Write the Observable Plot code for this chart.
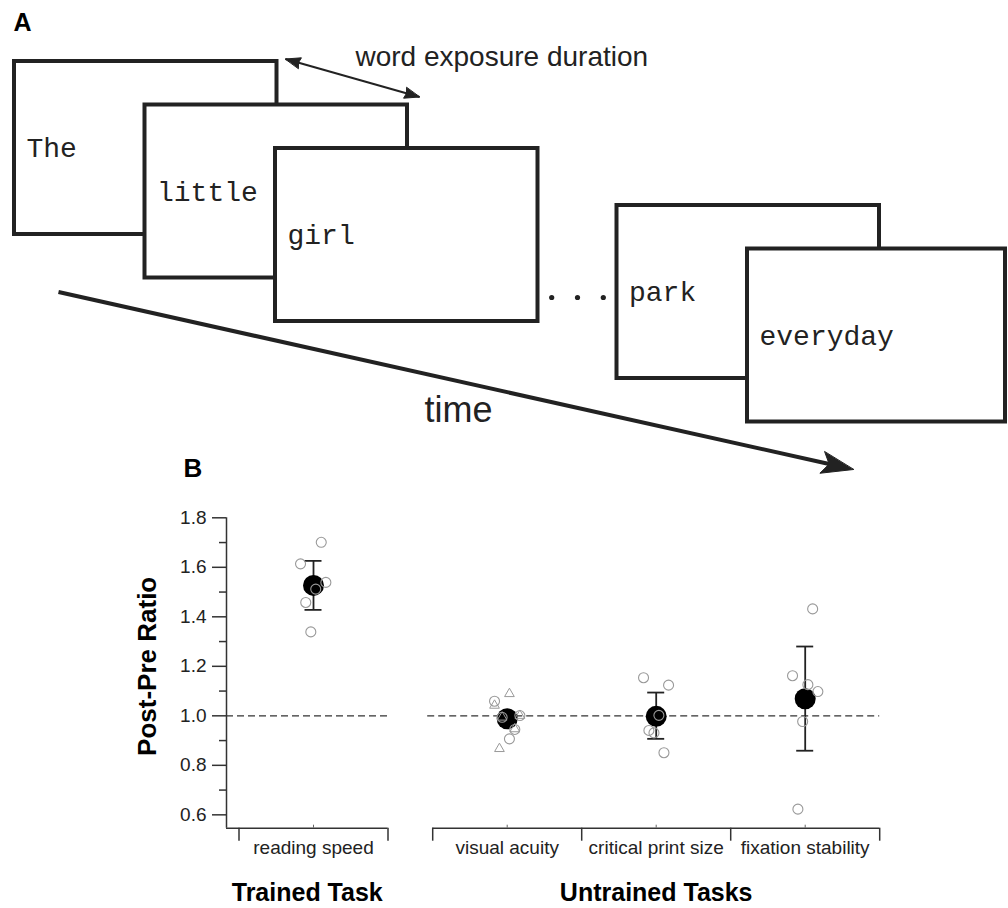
<!DOCTYPE html>
<html>
<head>
<meta charset="utf-8">
<script src="https://cdn.jsdelivr.net/npm/d3@7"></script>
<script src="https://cdn.jsdelivr.net/npm/@observablehq/plot@0.6"></script>
<style>
  html, body { margin: 0; padding: 0; background: #fff; }
  #fig { position: relative; width: 1008px; height: 908px; overflow: hidden; background: #fff; }
  #fig svg { position: absolute; left: 0; top: 0; }
</style>
</head>
<body>
<div id="fig"></div>
<script>
// ---------------- DATA ----------------
// Panel A: words shown one at a time (RSVP)
const wordsStart = ["The", "little", "girl"];
const wordsEnd = ["park", "everyday"];
const panelAText = { duration: "word exposure duration", time: "time" };

// Panel B: post/pre ratios
const tasks = ["reading speed", "visual acuity", "critical print size", "fixation stability"];
const taskGroup = ["Trained Task", "Untrained Tasks", "Untrained Tasks", "Untrained Tasks"];
const groups = ["Trained Task", "Untrained Tasks"];
const meanRatio = [1.527, 0.988, 0.998, 1.069];
const errLow = [1.428, 0.972, 0.907, 0.859];
const errHigh = [1.626, 1.004, 1.094, 1.280];

// individual subjects (circles); jitter in category-width units
const readingSpeed = [1.701, 1.614, 1.539, 1.512, 1.458, 1.339];
const readingSpeedJit = [0.052, -0.087, 0.083, 0.015, -0.052, -0.018];
const visualAcuity = [1.059, 0.994, 1.001, 0.945, 0.907];
const visualAcuityJit = [-0.085, -0.034, 0.085, 0.051, 0.015];
const visualAcuityTri = [1.089, 1.042, 0.994, 1.001, 0.947, 0.867];
const visualAcuityTriJit = [0.015, -0.085, -0.034, 0.085, 0.051, -0.052];
const printSize = [1.154, 1.124, 1.002, 0.941, 0.931, 0.851];
const printSizeJit = [-0.085, 0.083, 0.018, -0.049, -0.015, 0.052];
const fixation = [1.432, 1.162, 1.126, 1.098, 0.977, 0.623];
const fixationJit = [0.05, -0.085, 0.018, 0.085, -0.017, -0.049];

const yTicksMajor = [0.6, 0.8, 1.0, 1.2, 1.4, 1.6, 1.8];
const yTicksMinor = [0.7, 0.9, 1.1, 1.3, 1.5, 1.7];

// ---------------- LAYOUT ----------------
const W = 1008, H = 908;
const SANS = "'Liberation Sans', Arial, Helvetica, sans-serif";
const MONO = "'Liberation Mono', 'Courier New', monospace";
const INK = "#222";

// ---- Panel A (schematic, pixel-identity scales) ----
const FW = 262.5, FH = 173, STEP = [130.5, 43.5];
const frames = [];
[[wordsStart, [14, 61]], [wordsEnd, [616.5, 205]]].forEach(([ws, o]) => {
  ws.forEach((w, i) => {
    const x1 = o[0] + i * STEP[0], y1 = o[1] + i * STEP[1];
    frames.push({ word: w, x1, y1, x2: Math.min(x1 + FW, 1005), y2: y1 + FH });
  });
});
const f3 = frames[2], f4 = frames[3];
const dotsMid = (f3.x2 + f4.x1) / 2;
const ellipsis = [-1, 0, 1].map(k => ({ x: dotsMid + k * 25.8, y: f4.y1 + 92 }));

function arrowHead(tip, from, L, Wd, notch, id) {
  const dx = tip[0] - from[0], dy = tip[1] - from[1];
  const len = Math.hypot(dx, dy), ux = dx / len, uy = dy / len, nx = -uy, ny = ux;
  const bx = tip[0] - ux * L, by = tip[1] - uy * L;
  const mx = tip[0] - ux * L * notch, my = tip[1] - uy * L * notch;
  return [
    { id, x: tip[0], y: tip[1] },
    { id, x: bx + nx * Wd, y: by + ny * Wd },
    { id, x: mx, y: my },
    { id, x: bx - nx * Wd, y: by - ny * Wd }
  ];
}
const timeStart = [58, 291.5], timeTip = [853, 469];
const timeHead = arrowHead(timeTip, timeStart, 32, 11, 0.78, "t");
const durA = [285, 58.5], durB = [419, 96.5];
const heads = [
  ...timeHead,
  ...arrowHead(durA, durB, 15, 5.5, 0.9, "a"),
  ...arrowHead(durB, durA, 15, 5.5, 0.9, "b")
];
const links = [
  { x1: timeStart[0], y1: timeStart[1], x2: timeHead[2].x, y2: timeHead[2].y, w: 4 },
  { x1: durA[0], y1: durA[1], x2: durB[0], y2: durB[1], w: 2 }
];

const panelA = Plot.plot({
  width: W, height: H, margin: 0,
  x: { domain: [0, W], range: [0, W], axis: null },
  y: { domain: [0, H], range: [0, H], axis: null },
  style: { background: "transparent", overflow: "visible" },
  marks: [
    Plot.rect(frames, { x1: "x1", x2: "x2", y1: "y1", y2: "y2", fill: "white", stroke: INK, strokeWidth: 4 }),
    Plot.text(frames, { x: d => d.x1 + 12, y: d => d.y1 + 87, text: "word", textAnchor: "start",
      fontFamily: MONO, fontSize: 28, fill: INK }),
    Plot.dot(ellipsis, { x: "x", y: "y", r: 2.6, fill: INK, stroke: "none" }),
    Plot.link(links, { x1: "x1", y1: "y1", x2: "x2", y2: "y2", stroke: INK, strokeWidth: d => d.w }),
    Plot.line(heads, { x: "x", y: "y", z: "id", curve: "linear-closed", fill: INK, stroke: INK, strokeWidth: 1 }),
    Plot.text([panelAText.duration], { x: 355, y: 57, text: d => d, textAnchor: "start",
      fontFamily: SANS, fontSize: 28, fill: INK }),
    Plot.text([panelAText.time], { x: 458, y: 410, text: d => d, textAnchor: "middle",
      fontFamily: SANS, fontSize: 36, fill: INK }),
    Plot.text(["A"], { x: 13, y: 22, text: d => d, textAnchor: "start",
      fontFamily: SANS, fontSize: 25, fontWeight: "bold", fill: "#000" }),
    Plot.text(["B"], { x: 183, y: 468, text: d => d, textAnchor: "start",
      fontFamily: SANS, fontSize: 26, fontWeight: "bold", fill: "#000" })
  ]
});

// ---- Panel B ----
const GAP = 0.3;
const taskPos = tasks.map((t, i) => i + (i > 0 ? GAP : 0));
const xDomain = [-0.5, 3.8], xRange = [238.5, 879.2];
const yDomain = [0.546, 1.8], yRange = [827.7, 517.3];
const kx = (xRange[1] - xRange[0]) / (xDomain[1] - xDomain[0]);
const ky = (yRange[0] - yRange[1]) / (yDomain[1] - yDomain[0]);
const yMin = yDomain[0], yMax = yDomain[1];
const yAxisX = xDomain[0] - 12.5 / kx;

const groupEdges = groups.map((g) => {
  const pos = taskPos.filter((p, i) => taskGroup[i] === g);
  return { g, lo: d3.min(pos) - 0.5, hi: d3.max(pos) + 0.5 };
});
const bounds = groupEdges.flatMap(e => d3.range(e.lo, e.hi + 0.001, 1));
const axisSegs = groupEdges.map((e, i) => ({ x1: i === 0 ? yAxisX : e.lo, x2: e.hi }));
const dashSegs = groupEdges.map((e, i) => ({ x1: i === 0 ? yAxisX : e.lo - 5 / kx, x2: e.hi }));
const groupLabels = groupEdges.map((e, i) => ({ g: e.g, x: ((i === 0 ? yAxisX : e.lo) + e.hi) / 2 }));

const summary = tasks.map((t, i) => ({ t, x: taskPos[i], m: meanRatio[i], lo: errLow[i], hi: errHigh[i] }));
const caps = summary.flatMap(d => [d.lo, d.hi].map(v => ({ x: d.x, v })));
const circ = [];
[[readingSpeed, readingSpeedJit, 0], [visualAcuity, visualAcuityJit, 1],
 [printSize, printSizeJit, 2], [fixation, fixationJit, 3]].forEach(([vals, jit, i]) => {
  vals.forEach((v, k) => circ.push({ x: taskPos[i] + jit[k], v }));
});
const tri = visualAcuityTri.map((v, k) => ({ x: taskPos[1] + visualAcuityTriJit[k], v }));

const panelB = Plot.plot({
  width: W, height: H, margin: 0,
  x: { domain: xDomain, range: xRange, axis: null },
  y: { domain: yDomain, range: yRange, axis: null },
  style: { background: "transparent", overflow: "visible", fontFamily: SANS },
  marks: [
    // reference line at 1.0
    Plot.ruleY(dashSegs, { y: () => 1, x1: "x1", x2: "x2", stroke: "#333", strokeWidth: 1.3, strokeDasharray: "7,4" }),
    // axes
    Plot.ruleX([yAxisX], { y1: yMin, y2: yMax, stroke: "#333", strokeWidth: 1.5 }),
    Plot.ruleY(yTicksMajor, { y: d => d, x1: yAxisX - 14 / kx, x2: yAxisX, stroke: "#333", strokeWidth: 1.5 }),
    Plot.ruleY(yTicksMinor, { y: d => d, x1: yAxisX - 7 / kx, x2: yAxisX, stroke: "#333", strokeWidth: 1.5 }),
    Plot.text(yTicksMajor, { x: yAxisX - 20 / kx, y: d => d, text: d => d.toFixed(1), textAnchor: "end",
      fontSize: 19, fill: INK }),
    Plot.ruleY(axisSegs, { y: () => yMin, x1: "x1", x2: "x2", stroke: "#333", strokeWidth: 1.5 }),
    Plot.ruleX(bounds, { x: d => d, y1: yMin, y2: yMin - 13 / ky, stroke: "#333", strokeWidth: 1.5 }),
    Plot.ruleX(taskPos, { x: d => d, y1: yMin, y2: yMin + 3 / ky, stroke: "#666", strokeWidth: 1 }),
    Plot.text(tasks, { x: (d, i) => taskPos[i], y: () => yMin, dy: 19.5, text: d => d, textAnchor: "middle",
      fontSize: 19, fill: INK }),
    Plot.text(groupLabels, { x: "x", y: () => yMin, dy: 65, text: "g", textAnchor: "middle",
      fontSize: 25, fontWeight: "bold", fill: "#000" }),
    Plot.text(["Post-Pre Ratio"], { x: yAxisX - 79 / kx, y: 1.2, text: d => d, rotate: -90, textAnchor: "middle",
      fontSize: 26, fontWeight: "bold", fill: "#000" }),
    // error bars
    Plot.ruleX(summary, { x: "x", y1: "lo", y2: "hi", stroke: INK, strokeWidth: 1.8 }),
    Plot.ruleY(caps, { y: "v", x1: d => d.x - 8.5 / kx, x2: d => d.x + 8.5 / kx, stroke: INK, strokeWidth: 1.8 }),
    // means
    Plot.dot(summary, { x: "x", y: "m", r: 10.5, fill: "#000", stroke: "none" }),
    // individuals
    Plot.dot(tri, { x: "x", y: "v", symbol: "triangle", r: 3.6, fill: "none", stroke: "#999", strokeWidth: 1 }),
    Plot.dot(circ, { x: "x", y: "v", r: 5, fill: "none", stroke: "#999", strokeWidth: 1.1 })
  ]
});

const fig = document.getElementById("fig");
fig.appendChild(panelA);
fig.appendChild(panelB);
</script>
</body>
</html>
